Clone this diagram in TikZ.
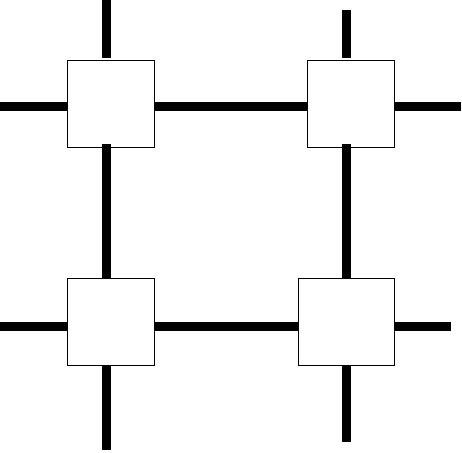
\documentclass[tikz,border=0pt]{standalone}
\begin{document}
\begin{tikzpicture}[x=1pt,y=-1pt,
  box/.style={draw,fill=white,line width=1pt,minimum width=87pt,minimum height=87pt,inner sep=0pt,outer sep=0pt},
  wire/.style={line width=8.8pt,line cap=butt}]
\useasboundingbox (0,0) rectangle (462,452);
\node[box] (tl) at (110.8,103.7) {};
\node[box] (tr) at (350.8,103.7) {};
\node[box] (bl) at (110.8,321.8) {};
\node[box,minimum width=96pt] (br) at (346.3,321.8) {};
% guide coordinates for wire axes
\coordinate (v1) at (106.5,0);
\coordinate (v2) at (346.5,0);
\coordinate (h1) at (0,106.3);
\coordinate (h2) at (0,326.3);
% free ends
\coordinate (tltop) at (106.5,0);
\coordinate (trtop) at (346.5,10);
\coordinate (blbot) at (106.5,450);
\coordinate (brbot) at (346.5,442);
\coordinate (tlleft) at (0,106.3);
\coordinate (blleft) at (0,326.3);
\coordinate (trright) at (461,106.3);
\coordinate (brright) at (451,326.3);
% vertical wires
\draw[wire] (tltop) -- ([yshift=2pt]tl.north -| v1);
\draw[wire] ([yshift=3pt]tl.south -| v1) -- (bl.north -| v1);
\draw[wire] (bl.south -| v1) -- (blbot);
\draw[wire] (trtop) -- ([yshift=2pt]tr.north -| v2);
\draw[wire] ([yshift=3pt]tr.south -| v2) -- (br.north -| v2);
\draw[wire] (br.south -| v2) -- (brbot);
% horizontal wires
\draw[wire] (tlleft) -- (tl.west |- h1);
\draw[wire] (tl.east |- h1) -- (tr.west |- h1);
\draw[wire] (tr.east |- h1) -- (trright);
\draw[wire] (blleft) -- (bl.west |- h2);
\draw[wire] (bl.east |- h2) -- (br.west |- h2);
\draw[wire] (br.east |- h2) -- (brright);
\end{tikzpicture}
\end{document}
